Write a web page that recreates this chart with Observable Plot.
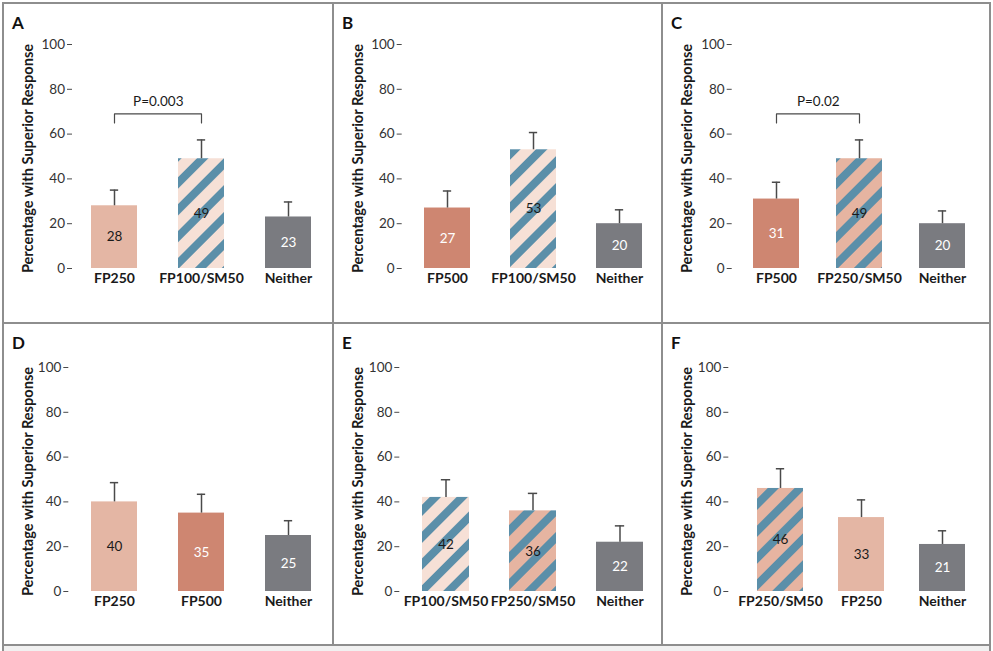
<!DOCTYPE html>
<html>
<head>
<meta charset="utf-8">
<script src="https://cdn.jsdelivr.net/npm/d3@7"></script>
<script src="https://cdn.jsdelivr.net/npm/@observablehq/plot@0.6"></script>
<style>
  html, body { margin: 0; padding: 0; background: #ffffff; }
  #root { position: relative; width: 993px; height: 651px; overflow: hidden; font-family: Lato, "Open Sans", sans-serif; }
  .panel-svg { position: absolute; }
  .letter { position: absolute; font-weight: bold; font-size: 17px; color: #111; line-height: 1; }
  .hline, .vline { position: absolute; background: #8e8e8e; }
  g[aria-label="x-axis tick label"] text { font-weight: bold; }
  g[aria-label="x-axis tick label"] { fill: #1a1a1a; font-size: 14px; }
  g[aria-label="y-axis tick label"] { fill: #333; }
</style>
</head>
<body>
<svg width="0" height="0" style="position:absolute">
  <defs>
    <pattern id="stripeLight" patternUnits="userSpaceOnUse" width="19" height="19" patternTransform="rotate(45)">
      <rect width="19" height="19" fill="#f6e0d6"></rect>
      <rect width="8" height="19" fill="#5b8fa9"></rect>
    </pattern>
    <pattern id="stripeSalmon" patternUnits="userSpaceOnUse" width="19" height="19" patternTransform="rotate(45)">
      <rect width="19" height="19" fill="#e6b4a1"></rect>
      <rect width="8" height="19" fill="#5b8fa9"></rect>
    </pattern>
  </defs>
</svg>
<div id="root"></div>
<script>
// ---------------- data ----------------
const panelLetters = ["A", "B", "C", "D", "E", "F"];
const yTicks = [0, 20, 40, 60, 80, 100];
const yTitle = "Percentage with Superior Response";

const catsA = ["FP250", "FP100/SM50", "Neither"];
const valuesA = [28, 49, 23];
const errTopA = [35, 57.4, 29.7];

const catsB = ["FP500", "FP100/SM50", "Neither"];
const valuesB = [27, 53, 20];
const errTopB = [34.6, 60.7, 26.2];

const catsC = ["FP500", "FP250/SM50", "Neither"];
const valuesC = [31, 49, 20];
const errTopC = [38.5, 57.4, 25.7];

const catsD = ["FP250", "FP500", "Neither"];
const valuesD = [40, 35, 25];
const errTopD = [48.6, 43.4, 31.6];

const catsE = ["FP100/SM50", "FP250/SM50", "Neither"];
const valuesE = [42, 36, 22];
const errTopE = [49.9, 43.8, 29.3];

const catsF = ["FP250/SM50", "FP250", "Neither"];
const valuesF = [46, 33, 21];
const errTopF = [54.8, 40.9, 27.1];

// significance brackets (panel A and C)
const pLabelA = "P=0.003";
const pLabelC = "P=0.02";
const bracketTop = 69;
const bracketFoot = 65;
const pTextY = 74.5;

// ---------------- styles ----------------
const fillOf = {
  "FP250": "#e4b6a4",
  "FP500": "#ce8671",
  "Neither": "#7a7b80",
  "FP100/SM50": "url(#stripeLight)",
  "FP250/SM50": "url(#stripeSalmon)"
};
const whiteText = new Set(["FP500", "Neither"]);
const AX = "#4a4a4a";
const BAR_W = 46.7;
const CAP_W = 9;

// layout (pixels) for each panel
const panels = [
  {letter: panelLetters[0], cats: catsA, values: valuesA, errs: errTopA, p: pLabelA,
   left: 3, top: 3, mL: 69, mR: 14, mT: 41, mB: 55, xr: [66.75, 329.25], lx: 12, ly: 14},
  {letter: panelLetters[1], cats: catsB, values: valuesB, errs: errTopB, p: null,
   left: 333, top: 3, mL: 68.7, mR: 14.3, mT: 41, mB: 55, xr: [69.7, 329.7], lx: 342, ly: 14},
  {letter: panelLetters[2], cats: catsC, values: valuesC, errs: errTopC, p: pLabelC,
   left: 662, top: 3, mL: 69.7, mR: 13.3, mT: 41, mB: 55, xr: [72, 322.5], lx: 671, ly: 14},
  {letter: panelLetters[3], cats: catsD, values: valuesD, errs: errTopD, p: null,
   left: 3, top: 325, mL: 65.3, mR: 14.3, mT: 42, mB: 54, xr: [66.6, 329.1], lx: 12, ly: 334},
  {letter: panelLetters[4], cats: catsE, values: valuesE, errs: errTopE, p: null,
   left: 333, top: 325, mL: 66.3, mR: 14.3, mT: 42, mB: 54, xr: [68.4, 329.9], lx: 342, ly: 334},
  {letter: panelLetters[5], cats: catsF, values: valuesF, errs: errTopF, p: null,
   left: 662, top: 325, mL: 66.3, mR: 13.3, mT: 42, mB: 54, xr: [77.3, 321.4], lx: 671, ly: 334}
];

const root = document.getElementById("root");

// panel borders
function addLine(cls, l, t, w, h, bg) {
  const d = document.createElement("div");
  d.className = cls;
  d.style.left = l + "px"; d.style.top = t + "px";
  d.style.width = w + "px"; d.style.height = h + "px";
  if (bg) d.style.background = bg;
  root.appendChild(d);
}
addLine("hline", 2, 2, 989, 2);
addLine("hline", 2, 321.5, 989, 2);
addLine("hline", 2, 643.5, 989, 2);
addLine("vline", 2, 2, 2, 643);
addLine("vline", 331.5, 2, 2, 643);
addLine("vline", 661, 2, 2, 643);
addLine("vline", 989, 2, 2, 643);
addLine("hline", 4, 645.5, 985, 6, "#f1f1f1");
addLine("vline", 2, 645, 2, 6);
addLine("vline", 989, 645, 2, 6);

const W = 328, H = 320;

for (const cfg of panels) {
  const data = cfg.cats.map((c, i) => ({cat: c, value: cfg.values[i], err: cfg.errs[i]}));
  const [a, b] = cfg.xr;
  const step = (b - a) / cfg.cats.length;
  const pin = 1 - BAR_W / step;
  const inset = (BAR_W - CAP_W) / 2;

  const marks = [
    Plot.barY(data, {x: "cat", y: "value", fill: d => fillOf[d.cat]}),
    Plot.ruleX(data, {x: "cat", y1: "value", y2: "err", stroke: AX, strokeWidth: 1.5}),
    Plot.tickY(data, {x: "cat", y: "err", stroke: AX, strokeWidth: 1.5, insetLeft: inset, insetRight: inset}),
    Plot.text(data, {x: "cat", y: d => d.value / 2, text: d => String(d.value),
      fill: d => whiteText.has(d.cat) ? "#ffffff" : "#1a1a1a", fontSize: 13.5}),
    Plot.axisY({ticks: yTicks, tickSize: 5, tickPadding: 2.5, line: true, label: null, fontSize: 13.5, stroke: AX}),
    Plot.axisX({tickSize: 0, tickPadding: 5, line: true, label: null, fontSize: 14, stroke: AX}),
    Plot.text([yTitle], {frameAnchor: "left", textAnchor: "middle", rotate: -90, dx: 25 - cfg.mL, dy: 2,
      fontWeight: "bold", fontSize: 14.6, fill: "#1a1a1a"})
  ];

  if (cfg.p) {
    const c0 = cfg.cats[0], c1 = cfg.cats[1];
    const pts = [
      {x: c0, y: bracketFoot}, {x: c0, y: bracketTop},
      {x: c1, y: bracketTop}, {x: c1, y: bracketFoot}
    ];
    marks.push(Plot.line(pts, {x: "x", y: "y", stroke: AX, strokeWidth: 1.2}));
    marks.push(Plot.text([{x: c0, label: cfg.p}], {x: "x", y: () => pTextY, text: "label",
      dx: step / 2, fontSize: 13.5, fill: "#1a1a1a"}));
  }

  const chart = Plot.plot({
    width: W,
    height: H,
    marginLeft: cfg.mL,
    marginRight: cfg.mR,
    marginTop: cfg.mT,
    marginBottom: cfg.mB,
    style: {fontFamily: "Lato, 'Open Sans', sans-serif", fontSize: "13.5px", color: "#333", background: "transparent", overflow: "visible"},
    x: {domain: cfg.cats, range: [a, b], paddingInner: pin, paddingOuter: pin / 2, axis: null},
    y: {domain: [0, 100], axis: null},
    color: {type: "identity"},
    marks
  });
  chart.classList.add("panel-svg");
  chart.style.left = cfg.left + "px";
  chart.style.top = cfg.top + "px";
  chart.style.position = "absolute";
  root.appendChild(chart);

  const lab = document.createElement("div");
  lab.className = "letter";
  lab.textContent = cfg.letter;
  lab.style.left = cfg.lx + "px";
  lab.style.top = cfg.ly + "px";
  root.appendChild(lab);
}
</script>
</body>
</html>
